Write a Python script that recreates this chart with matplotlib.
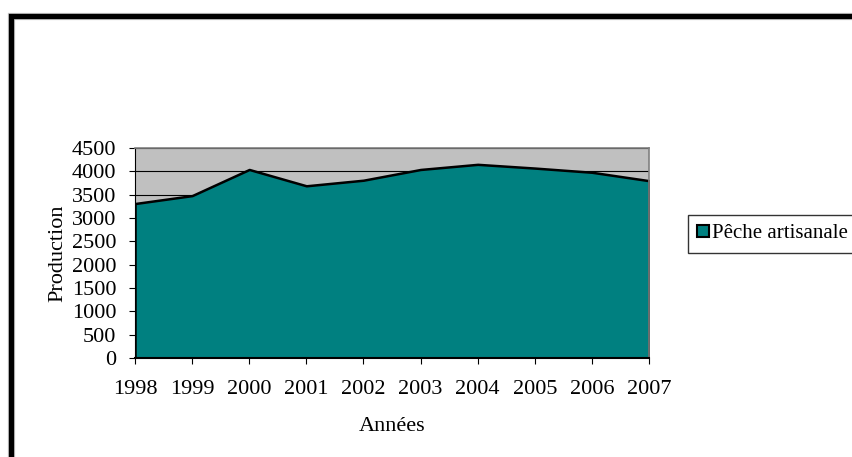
import matplotlib
matplotlib.use("Agg")
import matplotlib.pyplot as plt
from matplotlib.patches import Rectangle

plt.rcParams['font.family'] = ['Liberation Serif', 'DejaVu Serif']

# Production de la pêche artisanale (1998-2007)
annees = [1998, 1999, 2000, 2001, 2002, 2003, 2004, 2005, 2006, 2007]
production = [3310, 3480, 4040, 3690, 3810, 4040, 4150, 4070, 3980, 3800]
serie = "Pêche artisanale"
y_ticks = list(range(0, 4501, 500))

W, H = 852, 457
fig = plt.figure(figsize=(W / 100, H / 100), dpi=100)

# plot area in pixel coordinates
x0, x1 = 135, 649
y0, y1 = 148, 358
ax = fig.add_axes([x0 / W, 1 - y1 / H, (x1 - x0) / W, (y1 - y0) / H])
ax.set_facecolor("#c0c0c0")

for v in y_ticks:
    ax.axhline(v, color="black", lw=0.8, zorder=1)

ax.fill_between(annees, production, 0, facecolor="#008080",
                edgecolor="black", linewidth=1.8, zorder=2)

ax.set_xlim(annees[0], annees[-1])
ax.set_ylim(0, 4500)
ax.set_xticks(annees)
ax.set_yticks(y_ticks)

for side in ("top", "right"):
    ax.spines[side].set_color("#808080")
    ax.spines[side].set_linewidth(1.2)
ax.spines["left"].set_color("black")
ax.spines["bottom"].set_color("black")
ax.spines["bottom"].set_linewidth(1.5)
ax.spines["bottom"].set_zorder(3)

fs = 16
ax.tick_params(axis="both", direction="out", length=4.5, width=0.8,
               labelsize=fs, pad=9, colors="black")
ax.tick_params(axis="x", pad=11)

ax.set_xlabel("Années", fontsize=fs, labelpad=13)
ax.set_ylabel("Production", fontsize=fs, labelpad=3)

# legend box on the right, its frame runs past the figure edge
handle = Rectangle((0, 0), 1, 1, facecolor="#008080", edgecolor="black", lw=1.5)
leg = fig.legend([handle], [serie], loc="upper left",
                 bbox_to_anchor=(688 / W, 1 - 215 / H),
                 fontsize=15, frameon=True, fancybox=False,
                 handlelength=0.55, handleheight=0.55, handletextpad=0.15,
                 borderpad=0.45, borderaxespad=0)
leg.get_frame().set_edgecolor("black")
leg.get_frame().set_linewidth(1.0)

# thick chart border along the top and left edges
fig.add_artist(Rectangle((10.5 / W, -0.2), 1.5, 1.2 - 15.5 / H,
                         transform=fig.transFigure, fill=False,
                         edgecolor="#c8c8c8", linewidth=5.2, zorder=0))
fig.add_artist(Rectangle((10.5 / W, -0.2), 1.5, 1.2 - 15.5 / H,
                         transform=fig.transFigure, fill=False,
                         edgecolor="black", linewidth=3.8, zorder=1))

fig.savefig("out.png", dpi=100)
